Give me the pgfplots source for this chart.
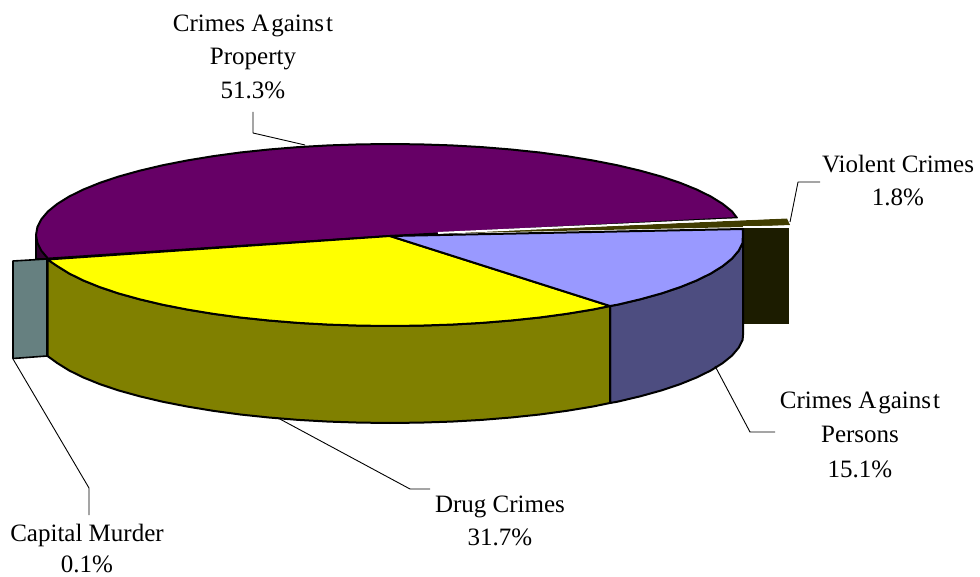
\documentclass[border=0pt]{standalone}
\usepackage{fontspec}
\setmainfont{Liberation Serif}
\usepackage{pgfplots}
\pgfplotsset{compat=1.18}
\definecolor{purpletop}{HTML}{660066}
\definecolor{purpleside}{HTML}{330033}
\definecolor{bluetop}{HTML}{9999FF}
\definecolor{blueside}{HTML}{4D4D80}
\definecolor{olive}{HTML}{808000}
\definecolor{yellowtop}{HTML}{FFFF00}
\definecolor{teal}{HTML}{668080}
\definecolor{darkside}{HTML}{1C1C00}
\definecolor{sliver}{HTML}{403C00}
\newcommand{\lab}[3]{\node[anchor=base,inner sep=0pt,font=\fontsize{25}{29}\selectfont] at (axis cs:#1,#2) {#3};}
\newcommand{\crimesagainst}{Crimes A\kern2pt gains\kern2pt t}
\begin{document}
\begin{tikzpicture}
\path[use as bounding box] (0,0) rectangle (980pt,577pt);
\begin{axis}[
    at={(0,0)},
    anchor=south west,
    scale only axis,
    width=980pt,
    height=577pt,
    xmin=0, xmax=980,
    ymin=0, ymax=577,
    y dir=reverse,
    axis lines=none,
    clip=false,
    every axis plot/.append style={line join=round},
]
% dark side of the violent crimes slice
\addplot[fill=darkside, draw=none] coordinates {(743,228.5)(789,228.5)(789,324)(743,324)} --cycle;
% purple side, left
\addplot[fill=purpleside, draw=black, line width=1.6pt] coordinates {(36,235)(36,259)(48,259)} --cycle;
% crimes against property, top
\addplot[fill=purpletop, draw=black, line width=2pt] coordinates {
    (390,236)(48,258.6)(41.4,250.8)(37.4,242.9)(36,235)(37.4,227.1)(41.4,219.2)(48,211.4)(57.3,203.9)(69.2,196.5)
    (83.4,189.5)(100,182.8)(118.8,176.5)(139.7,170.7)(162.5,165.3)(187,160.5)(213,156.2)(240.3,152.5)
    (268.9,149.5)(298.3,147.1)(328.5,145.4)(359.1,144.4)(390,144)(420.9,144.4)(451.5,145.4)(481.7,147.1)
    (511.1,149.5)(539.7,152.5)(567,156.2)(593,160.5)(617.5,165.3)(640.3,170.7)(661.2,176.5)(680,182.8)
    (696.6,189.5)(710.8,196.5)(722.7,203.9)(732,211.4)(737,218)
} --cycle;
% violent crimes, white gap and sliver
\addplot[fill=sliver, draw=none] coordinates {(438,233.5)(787,218.5)(790,225)(743,227)} --cycle;
\addplot[white, line width=2pt] coordinates {(438,233)(787,217)};
\addplot[white, line width=1.6pt] coordinates {(743,227)(790,226.5)};
% blue side
\addplot[fill=blueside, draw=black, line width=2pt] coordinates {
    (610,306)(617.5,304.7)(640.3,299.3)(661.2,293.5)(680,287.2)(696.6,280.5)(710.8,273.5)(722.7,266.1)(732,258.6)(738.6,250.8)(742.6,242.9)(743,229)
    (743,335)(742.6,339.9)(738.6,347.8)(732,355.6)(722.7,363.1)(710.8,370.5)(696.6,377.5)(680,384.2)(661.2,390.5)(640.3,396.3)(617.5,401.7)(610,403)
} --cycle;
% olive side
\addplot[fill=olive, draw=black, line width=2pt] coordinates {
    (47.5,259.5)(57.3,266.1)(69.2,273.5)(83.4,280.5)(100,287.2)(118.8,293.5)(139.7,299.3)(162.5,304.7)(187,309.5)(213,313.8)
    (240.3,317.5)(268.9,320.5)(298.3,322.9)(328.5,324.6)(359.1,325.6)(390,326)(420.9,325.6)(451.5,324.6)(481.7,322.9)
    (511.1,320.5)(539.7,317.5)(567,313.8)(593,309.5)(610,306)
    (610,403)(593,406.5)(567,410.8)(539.7,414.5)(511.1,417.5)(481.7,419.9)(451.5,421.6)(420.9,422.6)(390,423)(359.1,422.6)
    (328.5,421.6)(298.3,419.9)(268.9,417.5)(240.3,414.5)(213,410.8)(187,406.5)(162.5,401.7)(139.7,396.3)(118.8,390.5)
    (100,384.2)(83.4,377.5)(69.2,370.5)(57.3,363.1)(47.5,356)
} --cycle;
% yellow top
\addplot[fill=yellowtop, draw=black, line width=2pt] coordinates {
    (390,236)(47.5,259.5)(57.3,266.1)(69.2,273.5)(83.4,280.5)(100,287.2)(118.8,293.5)(139.7,299.3)(162.5,304.7)(187,309.5)(213,313.8)
    (240.3,317.5)(268.9,320.5)(298.3,322.9)(328.5,324.6)(359.1,325.6)(390,326)(420.9,325.6)(451.5,324.6)(481.7,322.9)
    (511.1,320.5)(539.7,317.5)(567,313.8)(593,309.5)(610,306)
} --cycle;
% blue top
\addplot[fill=bluetop, draw=black, line width=2pt] coordinates {
    (390,236)(610,306)(617.5,304.7)(640.3,299.3)(661.2,293.5)(680,287.2)(696.6,280.5)(710.8,273.5)(722.7,266.1)(732,258.6)(738.6,250.8)(742.6,242.9)(743,229)
} --cycle;
% capital murder block
\addplot[fill=teal, draw=black, line width=1.6pt] coordinates {(13,261)(47,259)(47,356)(13,358.5)} --cycle;
% leader lines
\addplot[black, line width=0.9pt] coordinates {(253,112)(253,133)(305,145)};
\addplot[black, line width=0.9pt] coordinates {(790,222)(798,182)(820,182)};
\addplot[black, line width=0.9pt] coordinates {(715,366)(750,432)(775,432)};
\addplot[black, line width=0.9pt] coordinates {(278,418)(410,489)(430,489)};
\addplot[black, line width=0.9pt] coordinates {(13,359)(89,488)(89,515)};
% labels
\lab{253}{32}{\crimesagainst}
\lab{253}{65}{Property}
\lab{253}{99}{51.3\%}
\lab{898}{173}{Violent Crimes}
\lab{898}{206}{1.8\%}
\lab{860}{408}{\crimesagainst}
\lab{860}{442}{Persons}
\lab{860}{477}{15.1\%}
\lab{500}{512}{Drug Crimes}
\lab{500}{545}{31.7\%}
\lab{87}{541}{Capital Murder}
\lab{87}{572}{0.1\%}
\end{axis}
\end{tikzpicture}
\end{document}
